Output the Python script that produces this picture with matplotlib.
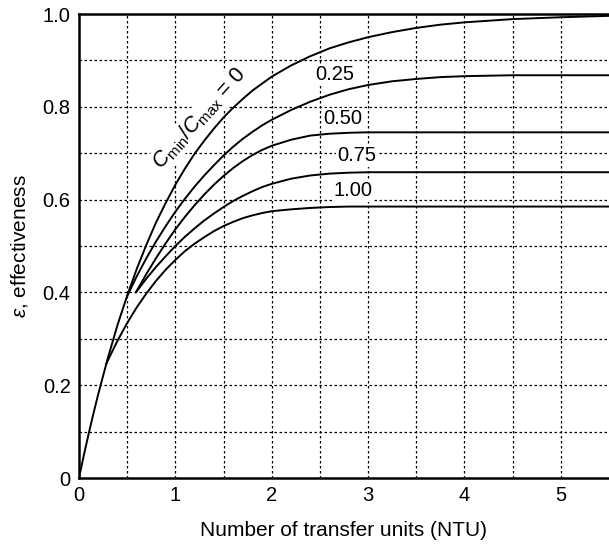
import matplotlib
matplotlib.use('Agg')
import matplotlib.pyplot as plt

plt.rcParams['font.family'] = ['Liberation Sans', 'DejaVu Sans']
plt.rcParams['mathtext.fontset'] = 'custom'
plt.rcParams['mathtext.rm'] = 'Liberation Sans'
plt.rcParams['mathtext.it'] = 'Liberation Sans:italic'

# 読み取った曲線の値 (NTU, 有効度)
ntu_0 = [0, 0.05, 0.1, 0.15, 0.2, 0.3, 0.4, 0.5, 0.6, 0.7, 0.8, 0.9, 1.0, 1.1, 1.2, 1.3,
         1.4, 1.5, 1.6, 1.7, 1.8, 1.9, 2.0, 2.2, 2.4, 2.6, 2.8, 3.0, 3.25, 3.5, 3.75,
         4.0, 4.5, 5.0, 5.5]
eps_0 = [0, 0.049, 0.095, 0.139, 0.181, 0.259, 0.33, 0.393, 0.451, 0.503, 0.551, 0.593,
         0.632, 0.667, 0.699, 0.727, 0.753, 0.777, 0.798, 0.817, 0.835, 0.85, 0.865,
         0.889, 0.909, 0.926, 0.939, 0.95, 0.961, 0.970, 0.977, 0.982, 0.989, 0.993, 0.996]

ntu_025 = [0.5, 0.6, 0.7, 0.8, 0.9, 1.0, 1.1, 1.2, 1.3, 1.4, 1.5, 1.6, 1.7, 1.8, 1.9,
           2.0, 2.2, 2.4, 2.6, 2.8, 3.0, 3.25, 3.5, 3.75, 4.0, 4.5, 5.0, 5.5]
eps_025 = [0.392, 0.435, 0.474, 0.51, 0.543, 0.574, 0.602, 0.628, 0.652, 0.674, 0.695,
           0.714, 0.731, 0.746, 0.76, 0.772, 0.793, 0.811, 0.826, 0.838, 0.847, 0.855,
           0.860, 0.864, 0.866, 0.868, 0.868, 0.868]

ntu_050 = [0.59, 0.7, 0.8, 0.9, 1.0, 1.1, 1.2, 1.3, 1.4, 1.5, 1.6, 1.7, 1.8, 1.9, 2.0,
           2.2, 2.4, 2.6, 2.8, 3.0, 3.5, 4.0, 5.0, 5.5]
eps_050 = [0.40, 0.44, 0.474, 0.506, 0.536, 0.563, 0.588, 0.611, 0.632, 0.651, 0.668,
           0.683, 0.696, 0.707, 0.716, 0.729, 0.738, 0.742, 0.744, 0.745, 0.745, 0.745,
           0.745, 0.745]

ntu_075 = [0.59, 0.7, 0.8, 0.9, 1.0, 1.1, 1.2, 1.3, 1.4, 1.5, 1.6, 1.7, 1.8, 1.9, 2.0,
           2.2, 2.4, 2.6, 2.8, 3.0, 4.0, 5.0, 5.5]
eps_075 = [0.40, 0.43, 0.455, 0.478, 0.50, 0.52, 0.538, 0.555, 0.57, 0.584, 0.597, 0.608,
           0.618, 0.627, 0.634, 0.645, 0.652, 0.656, 0.658, 0.659, 0.659, 0.659, 0.659]

ntu_100 = [0.28, 0.35, 0.4, 0.5, 0.6, 0.7, 0.8, 0.9, 1.0, 1.1, 1.2, 1.3, 1.4, 1.5, 1.6,
           1.7, 1.8, 1.9, 2.0, 2.2, 2.4, 2.6, 2.8, 3.0, 4.0, 5.0, 5.5]
eps_100 = [0.245, 0.275, 0.296, 0.334, 0.368, 0.398, 0.425, 0.449, 0.47, 0.489, 0.505,
           0.519, 0.532, 0.543, 0.552, 0.56, 0.566, 0.571, 0.575, 0.579, 0.582, 0.584,
           0.585, 0.585, 0.585, 0.585, 0.585]

curves = [(ntu_0, eps_0), (ntu_025, eps_025), (ntu_050, eps_050),
          (ntu_075, eps_075), (ntu_100, eps_100)]

ratio_labels = ['0.25', '0.50', '0.75', '1.00']
label_pos = [(2.65, 0.869), (2.74, 0.774), (2.88, 0.694), (2.84, 0.619)]

x_ticks = [0, 1, 2, 3, 4, 5]
y_ticks = [0, 0.2, 0.4, 0.6, 0.8, 1.0]
y_tick_labels = ['0', '0.2', '0.4', '0.6', '0.8', '1.0']

fig = plt.figure(figsize=(6.09, 5.47), dpi=100)
ax = fig.add_axes([79 / 609, 69 / 547, 530 / 609, 464 / 547])

# 点線のグリッド
for gx in [0.5 * i for i in range(1, 11)]:
    ax.axvline(gx, color='black', lw=0.9, ls=(0, (2, 2)), zorder=1)
for gy in [0.1 * i for i in range(1, 10)]:
    ax.axhline(gy, color='black', lw=0.9, ls=(0, (2, 2)), zorder=1)

for x, y in curves:
    ax.plot(x, y, color='black', lw=1.4, zorder=3, solid_capstyle='round',
            solid_joinstyle='round')

bb = dict(facecolor='white', edgecolor='none', pad=1)
ax.text(1.25, 0.775, r'$C_{\mathrm{min}}/C_{\mathrm{max}}$ = 0', fontsize=15.5,
        rotation=48, ha='center', va='center', bbox=bb, zorder=2)
for lab, (px, py) in zip(ratio_labels, label_pos):
    ax.text(px, py, lab, fontsize=14.5, ha='center', va='center', bbox=bb, zorder=2)

ax.set_xlim(0, 5.5)
ax.set_ylim(0, 1.0)
ax.set_xticks(x_ticks)
ax.set_yticks(y_ticks)
ax.set_yticklabels(y_tick_labels)
ax.tick_params(length=0, labelsize=14.5, pad=6)
ax.spines['right'].set_visible(False)
for s in ['left', 'bottom', 'top']:
    ax.spines[s].set_linewidth(1.8)

ax.set_xlabel('Number of transfer units (NTU)', fontsize=15, labelpad=11)
ax.set_ylabel(r'$\varepsilon$, effectiveness', fontsize=15, labelpad=9)

fig.savefig('out.png', dpi=100)
